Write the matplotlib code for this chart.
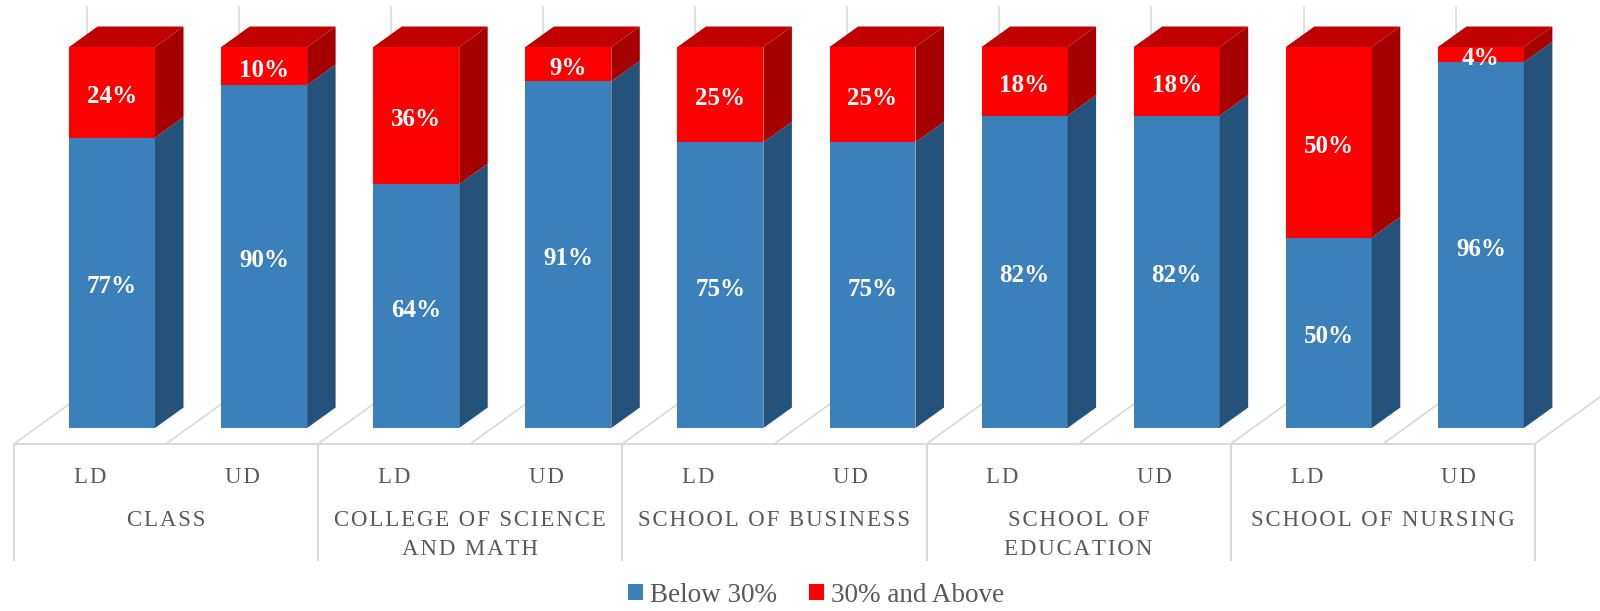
import matplotlib
matplotlib.use("Agg")
import matplotlib.pyplot as plt
from matplotlib.patches import Polygon, Patch

plt.rcParams['font.family'] = ['Liberation Serif', 'DejaVu Serif']

# data
groups = ['CLASS', 'COLLEGE OF SCIENCE\nAND MATH', 'SCHOOL OF BUSINESS',
          'SCHOOL OF\nEDUCATION', 'SCHOOL OF NURSING']
levels = ['LD', 'UD']
below = [77, 90, 64, 91, 75, 75, 82, 82, 50, 96]
above = [24, 10, 36, 9, 25, 25, 18, 18, 50, 4]
series_names = ['Below 30%', '30% and Above']

# colours
blue_front, blue_side = '#3B80BA', '#25527A'
red_front, red_side, red_top = '#FF0000', '#A50000', '#C00000'
grid_c = '#D9D9D9'
text_c = '#595959'

# oblique depth (one unit = depth of a bar)
DX, DY = 0.1874, 5.38
FLOOR_D, WALL_D = -0.772, 1.78
HALF_W = 0.2825


def at(x, y, d):
    return (x + d * DX, y + d * DY)


def spaced(s):
    # wide letter spacing like the original axis labels
    return '\n'.join('\u200a'.join(line) for line in s.split('\n'))


fig = plt.figure(figsize=(16, 6.11), dpi=100)
ax = fig.add_axes([0, 0, 1, 1])
ax.set_xlim(-0.2367, 10.283)
ax.set_ylim(-48.03, 112.34)
ax.axis('off')

n = len(below)

# back wall and floor
for k in range(n + 1):
    ax.plot(*zip(at(k, 0, WALL_D), at(k, 101, WALL_D)), color=grid_c, lw=1.2, zorder=1)
    ax.plot(*zip(at(k, 0, FLOOR_D), at(k, 0, WALL_D)), color=grid_c, lw=1.2, zorder=1)
ax.plot(*zip(at(0, 0, FLOOR_D), at(n, 0, FLOOR_D)), color=grid_c, lw=1.5, zorder=1)

# group dividers below floor
for g in range(len(groups) + 1):
    x0, y0 = at(2 * g, 0, FLOOR_D)
    ax.plot([x0, x0], [y0, -34.6], color=grid_c, lw=1.5, zorder=1)

# bars
for i in range(n):
    tot = below[i] + above[i]
    b = below[i] / tot * 100
    l, r = i + 0.5 - HALF_W, i + 0.5 + HALF_W
    segs = [(0, b, blue_front, blue_side), (b, 100, red_front, red_side)]
    for lo, hi, fc, sc in segs:
        ax.add_patch(Polygon([at(l, lo, 0), at(r, lo, 0), at(r, hi, 0), at(l, hi, 0)],
                             closed=True, fc=fc, ec='none', zorder=3))
        ax.add_patch(Polygon([at(r, lo, 0), at(r, lo, 1), at(r, hi, 1), at(r, hi, 0)],
                             closed=True, fc=sc, ec='none', zorder=3))
    ax.add_patch(Polygon([at(l, 100, 0), at(r, 100, 0), at(r, 100, 1), at(l, 100, 1)],
                         closed=True, fc=red_top, ec='none', zorder=3))
    ax.text(i + 0.5, b / 2 - 1.1, f'{below[i]}%', ha='center', va='center', color='white',
            fontsize=18, fontweight='bold', zorder=4)
    ax.text(i + 0.5, (b + 100) / 2 - 1.1, f'{above[i]}%', ha='center', va='center',
            color='white', fontsize=18, fontweight='bold', zorder=4)

# category labels
for i in range(n):
    x, _ = at(i + 0.5, 0, FLOOR_D)
    ax.text(x, -12.9, spaced(levels[i % 2]), ha='center', va='center', color=text_c,
            fontsize=16.5)
for g, name in enumerate(groups):
    x, _ = at(2 * g + 1, 0, FLOOR_D)
    ax.text(x, -21.5, spaced(name), ha='center', va='top', color=text_c, fontsize=16.5,
            linespacing=1.5)

handles = [Patch(fc=blue_front, ec='none'), Patch(fc=red_front, ec='none')]
fig.legend(handles, series_names, loc='center', bbox_to_anchor=(0.51, 0.026), ncol=2,
           frameon=False, fontsize=19.5, handlelength=0.55, handleheight=0.55,
           handletextpad=0.25, columnspacing=1.2, labelcolor=text_c)

fig.savefig('out.png', dpi=100)
